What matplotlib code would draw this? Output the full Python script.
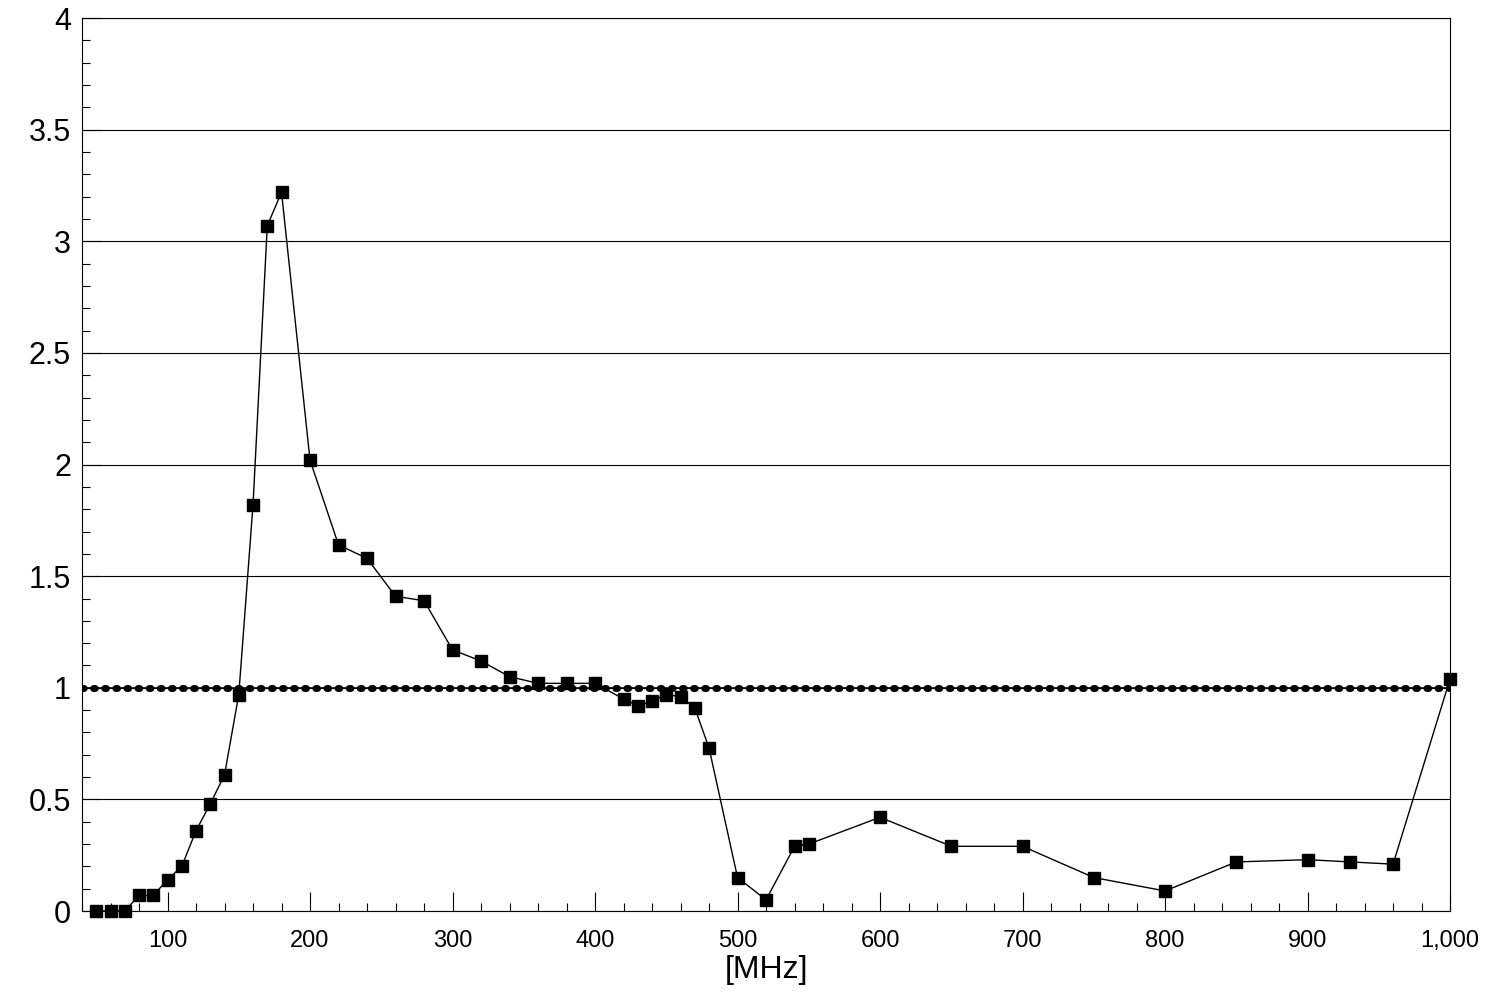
import matplotlib
matplotlib.use('Agg')
import matplotlib.pyplot as plt
from matplotlib.ticker import MultipleLocator, FuncFormatter

plt.rcParams['font.family'] = ['Liberation Sans', 'DejaVu Sans']

freq = [50, 60, 70, 80, 90, 100, 110, 120, 130, 140, 150, 160, 170, 180, 200, 220, 240, 260, 280,
        300, 320, 340, 360, 380, 400, 420, 430, 440, 450, 460, 470, 480, 500, 520, 540, 550,
        600, 650, 700, 750, 800, 850, 900, 930, 960, 1000]
ratio = [0, 0, 0, 0.07, 0.07, 0.14, 0.2, 0.36, 0.48, 0.61, 0.97, 1.82, 3.07, 3.22, 2.02, 1.64, 1.58, 1.41, 1.39,
         1.17, 1.12, 1.05, 1.02, 1.02, 1.02, 0.95, 0.92, 0.94, 0.97, 0.96, 0.91, 0.73, 0.15, 0.05, 0.29, 0.30,
         0.42, 0.29, 0.29, 0.15, 0.09, 0.22, 0.23, 0.22, 0.21, 1.04]
limit = 1.0

fig = plt.figure(figsize=(15.05, 10.08), dpi=100)
ax = fig.add_axes([0.0545, 0.0962, 0.909, 0.8858])

ax.axhline(limit, color='black', linestyle=(0, (0.25, 1.35)), linewidth=5, dash_capstyle='round', zorder=2)
ax.axhline(limit, color='black', linewidth=1.2, zorder=2)
ax.plot(freq, ratio, color='black', linewidth=1, marker='s', markersize=9, clip_on=False, zorder=3)

ax.set_xlim(40, 1000)
ax.set_ylim(0, 4)
ax.xaxis.set_major_locator(MultipleLocator(100))
ax.xaxis.set_minor_locator(MultipleLocator(20))
ax.yaxis.set_major_locator(MultipleLocator(0.5))
ax.yaxis.set_minor_locator(MultipleLocator(0.1))
ax.xaxis.set_major_formatter(FuncFormatter(lambda v, p: f'{int(v):,}'))
ax.yaxis.set_major_formatter(FuncFormatter(lambda v, p: f'{v:g}'))
ax.grid(axis='y', which='major', color='black', linewidth=0.8)
ax.tick_params(which='both', direction='in', top=False, right=False)
ax.tick_params(axis='x', labelsize=17, pad=14)
ax.tick_params(axis='y', labelsize=22, pad=8)
ax.tick_params(which='major', length=14, width=0.8)
ax.tick_params(which='minor', length=6, width=0.8)
ax.set_xlabel('[MHz]', fontsize=23, labelpad=2)
for s in ax.spines.values():
    s.set_linewidth(0.8)

fig.savefig('out.png', dpi=100)
